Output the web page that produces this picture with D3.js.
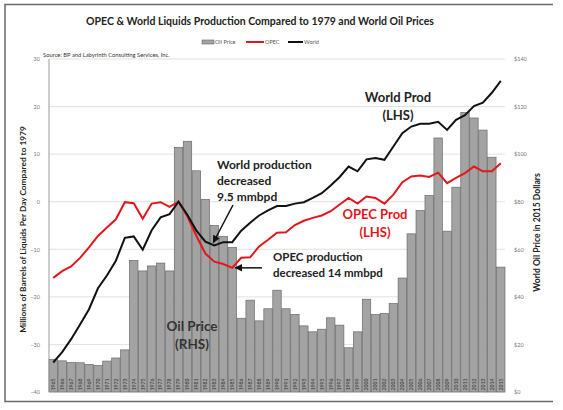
<!DOCTYPE html>
<html>
<head>
<meta charset="utf-8">
<script src="https://cdn.jsdelivr.net/npm/d3@7"></script>
<style>
  body { margin: 0; background: #fff; }
  svg { font-family: Lato, "Open Sans", sans-serif; }
</style>
</head>
<body>
<div id="chart"></div>
<script>
var years = [1965, 1966, 1967, 1968, 1969, 1970, 1971, 1972, 1973, 1974,
    1975, 1976, 1977, 1978, 1979, 1980, 1981, 1982, 1983, 1984,
    1985, 1986, 1987, 1988, 1989, 1990, 1991, 1992, 1993, 1994,
    1995, 1996, 1997, 1998, 1999, 2000, 2001, 2002, 2003, 2004,
    2005, 2006, 2007, 2008, 2009, 2010, 2011, 2012, 2013, 2014, 2015];

// oil price, 2015 dollars (RHS)
var oilPrice = [13.7, 13.1, 12.4, 12.3, 11.6, 11.1, 13.0, 14.3, 17.7, 55.3,
    50.9, 53.0, 54.2, 50.9, 102.8, 105.4, 93.0, 81.0, 70.0, 65.4,
    60.8, 31.0, 38.6, 29.9, 35.0, 42.8, 35.0, 32.6, 27.8, 25.3,
    26.4, 31.2, 28.1, 18.6, 25.3, 39.0, 32.6, 33.0, 37.2, 47.9,
    66.5, 76.3, 82.6, 106.8, 67.6, 86.1, 117.5, 115.2, 110.1, 98.7, 52.5];

// mmbpd compared to 1979 (LHS)
var opec = [-16.0, -14.6, -13.6, -11.8, -9.6, -7.2, -5.4, -3.7, -0.1, -0.3,
    -3.6, -0.4, -0.1, -1.1, 0, -3.1, -7.2, -10.9, -12.6, -13.1,
    -13.9, -11.8, -11.7, -9.4, -8.0, -6.5, -6.4, -4.9, -4.0, -3.4,
    -2.9, -2.0, -0.6, 0.8, -0.4, 1.1, 0.8, -0.4, 1.5, 4.1,
    5.3, 5.5, 5.2, 6.1, 3.9, 5.0, 6.0, 7.4, 6.4, 6.4, 8.1];

var world = [-33.8, -31.6, -28.9, -25.8, -22.6, -18.2, -15.5, -12.4, -7.6, -7.3,
    -10.1, -6.0, -3.3, -2.6, 0, -2.8, -6.1, -8.4, -9.2, -8.5,
    -8.5, -6.1, -4.4, -2.9, -1.8, -0.9, -0.9, -0.4, -0.1, 0.8,
    1.8, 3.4, 5.2, 7.4, 6.4, 8.9, 9.2, 8.8, 11.6, 14.4,
    15.8, 16.4, 16.4, 16.8, 15.1, 17.2, 18.2, 20.1, 20.8, 22.9, 25.4];

var leftTicks = [-40, -30, -20, -10, 0, 10, 20, 30];
var rightTicks = [0, 20, 40, 60, 80, 100, 120, 140];

var width = 563,
    height = 410;

var margin = {top: 59, right: 58, bottom: 18, left: 49};

var svg = d3.select("#chart").append("svg")
    .attr("width", width)
    .attr("height", height);

// frame (right edge is cut off in the original)
svg.append("path")
    .attr("d", "M553,4.5H5V401.5H553")
    .attr("fill", "none")
    .attr("stroke", "#6a6a6a")
    .attr("stroke-width", 1.5);

var x = d3.scaleBand()
    .domain(years)
    .range([margin.left, width - margin.right])
    .paddingInner(0.06);

var yL = d3.scaleLinear()
    .domain([-40, 30])
    .range([height - margin.bottom, margin.top]);

var yR = d3.scaleLinear()
    .domain([0, 140])
    .range([height - margin.bottom, margin.top]);

// grid
svg.append("g").selectAll("line")
    .data(leftTicks)
    .enter().append("line")
    .attr("x1", margin.left)
    .attr("x2", width - margin.right)
    .attr("y1", function(d) { return yL(d); })
    .attr("y2", function(d) { return yL(d); })
    .attr("stroke", "#d9d9d9")
    .attr("stroke-width", 0.8);

// bars
svg.append("g").selectAll("rect")
    .data(oilPrice)
    .enter().append("rect")
    .attr("x", function(d, i) { return x(years[i]); })
    .attr("width", x.bandwidth())
    .attr("y", function(d) { return yR(d); })
    .attr("height", function(d) { return yR(0) - yR(d); })
    .attr("fill", "#a3a3a3")
    .attr("stroke", "#6a6a6a")
    .attr("stroke-width", 0.7);

// year labels, inside the bars
svg.append("g").selectAll("text")
    .data(years)
    .enter().append("text")
    .attr("transform", function(d) {
        return "translate(" + (x(d) + x.bandwidth() / 2) + "," + (yR(0) - 1.5) + ") rotate(-90)";
    })
    .attr("dy", "0.35em")
    .attr("font-size", 5.2)
    .attr("fill", "#333")
    .text(function(d) { return d; });

// left axis
var leftAxis = svg.append("g")
    .attr("transform", "translate(" + (margin.left - 6) + ",0)")
    .call(d3.axisLeft(yL).tickValues(leftTicks).tickSize(0));
leftAxis.select(".domain").remove();
leftAxis.selectAll("text")
    .attr("font-family", "Lato, sans-serif")
    .attr("font-size", 5.5)
    .attr("fill", "#777");

svg.append("line")
    .attr("x1", margin.left).attr("x2", margin.left)
    .attr("y1", yL(30)).attr("y2", yL(-40))
    .attr("stroke", "#9a9a9a")
    .attr("stroke-width", 1);

// right axis
var rightAxis = svg.append("g")
    .attr("transform", "translate(" + (width - margin.right + 6) + ",0)")
    .call(d3.axisRight(yR).tickValues(rightTicks).tickSize(0)
        .tickFormat(function(d) { return "$" + d; }));
rightAxis.select(".domain").remove();
rightAxis.selectAll("text")
    .attr("font-family", "Lato, sans-serif")
    .attr("font-size", 5.5)
    .attr("fill", "#777");

// lines
var lineL = d3.line()
    .x(function(d, i) { return x(years[i]) + x.bandwidth() / 2; })
    .y(function(d) { return yL(d); });

svg.append("path")
    .datum(opec)
    .attr("d", lineL)
    .attr("fill", "none")
    .attr("stroke", "#e3161c")
    .attr("stroke-width", 2);

svg.append("path")
    .datum(world)
    .attr("d", lineL)
    .attr("fill", "none")
    .attr("stroke", "#111")
    .attr("stroke-width", 2);

// title, legend, source
svg.append("text")
    .attr("x", 260).attr("y", 25)
    .attr("text-anchor", "middle")
    .attr("font-size", 10.5)
    .attr("font-weight", "bold")
    .attr("fill", "#222")
    .text("OPEC & World Liquids Production Compared to 1979 and World Oil Prices");

var legend = svg.append("g").attr("font-size", 5.5).attr("fill", "#555");
legend.append("rect")
    .attr("x", 202).attr("y", 40).attr("width", 12).attr("height", 4)
    .attr("fill", "#a3a3a3").attr("stroke", "#6a6a6a").attr("stroke-width", 0.6);
legend.append("text").attr("x", 215).attr("y", 44).text("Oil Price");
legend.append("line")
    .attr("x1", 246).attr("x2", 264).attr("y1", 42).attr("y2", 42)
    .attr("stroke", "#e3161c").attr("stroke-width", 2);
legend.append("text").attr("x", 265).attr("y", 44).text("OPEC");
legend.append("line")
    .attr("x1", 288).attr("x2", 303).attr("y1", 42).attr("y2", 42)
    .attr("stroke", "#111").attr("stroke-width", 2);
legend.append("text").attr("x", 304).attr("y", 44).text("World");

svg.append("text")
    .attr("x", 43).attr("y", 57)
    .attr("font-size", 5.8)
    .attr("fill", "#333")
    .text("Source: BP and Labyrinth Consulting Services, Inc.");

// axis titles
svg.append("text")
    .attr("transform", "translate(26," + ((yL(30) + yL(-40)) / 2 + 4) + ") rotate(-90)")
    .attr("text-anchor", "middle")
    .attr("font-size", 8.3)
    .attr("font-weight", "bold")
    .attr("fill", "#222")
    .text("Millions of Barrels of Liquids Per Day Compared  to 1979");

svg.append("text")
    .attr("transform", "translate(540," + ((yR(0) + yR(140)) / 2 + 7) + ") rotate(-90)")
    .attr("text-anchor", "middle")
    .attr("font-size", 8.6)
    .attr("font-weight", "bold")
    .attr("fill", "#222")
    .text("World Oil Price in 2015 Dollars");

// annotations
function multi(xp, yp, lines, opts) {
    var t = svg.append("text")
        .attr("x", xp).attr("y", yp)
        .attr("font-size", opts.size)
        .attr("font-weight", "bold")
        .attr("fill", opts.color)
        .attr("text-anchor", opts.anchor || "start");
    lines.forEach(function(s, i) {
        t.append("tspan").attr("x", xp).attr("dy", i === 0 ? 0 : opts.lh).text(s);
    });
}

multi(217, 169, ["World production", "decreased", "9.5 mmbpd"], {size: 12, color: "#222", lh: 16});
multi(273, 261, ["OPEC production", "decreased 14 mmbpd"], {size: 11.5, color: "#222", lh: 16});
multi(398, 102, ["World Prod", "(LHS)"], {size: 13, color: "#222", lh: 18, anchor: "middle"});
multi(375, 219, ["OPEC Prod", "(LHS)"], {size: 13, color: "#e3161c", lh: 18, anchor: "middle"});
multi(192, 331, ["Oil Price", "(RHS)"], {size: 13.5, color: "#333", lh: 18, anchor: "middle"});

svg.append("defs").append("marker")
    .attr("id", "arrow")
    .attr("viewBox", "0 0 10 10")
    .attr("refX", 9).attr("refY", 5)
    .attr("markerWidth", 5).attr("markerHeight", 5)
    .attr("orient", "auto")
    .append("path")
    .attr("d", "M0,0L10,5L0,10z")
    .attr("fill", "#111");

var i83 = years.indexOf(1983),
    i85 = years.indexOf(1985);

svg.append("line")
    .attr("x1", 233).attr("y1", 205)
    .attr("x2", x(1983) + x.bandwidth() / 2 - 1)
    .attr("y2", yL(world[i83]) - 3)
    .attr("stroke", "#111").attr("stroke-width", 1.5)
    .attr("marker-end", "url(#arrow)");

svg.append("line")
    .attr("x1", 262).attr("y1", yL(opec[i85]))
    .attr("x2", x(1985) + x.bandwidth() / 2 + 3)
    .attr("y2", yL(opec[i85]))
    .attr("stroke", "#111").attr("stroke-width", 1.5)
    .attr("marker-end", "url(#arrow)");
</script>
</body>
</html>
